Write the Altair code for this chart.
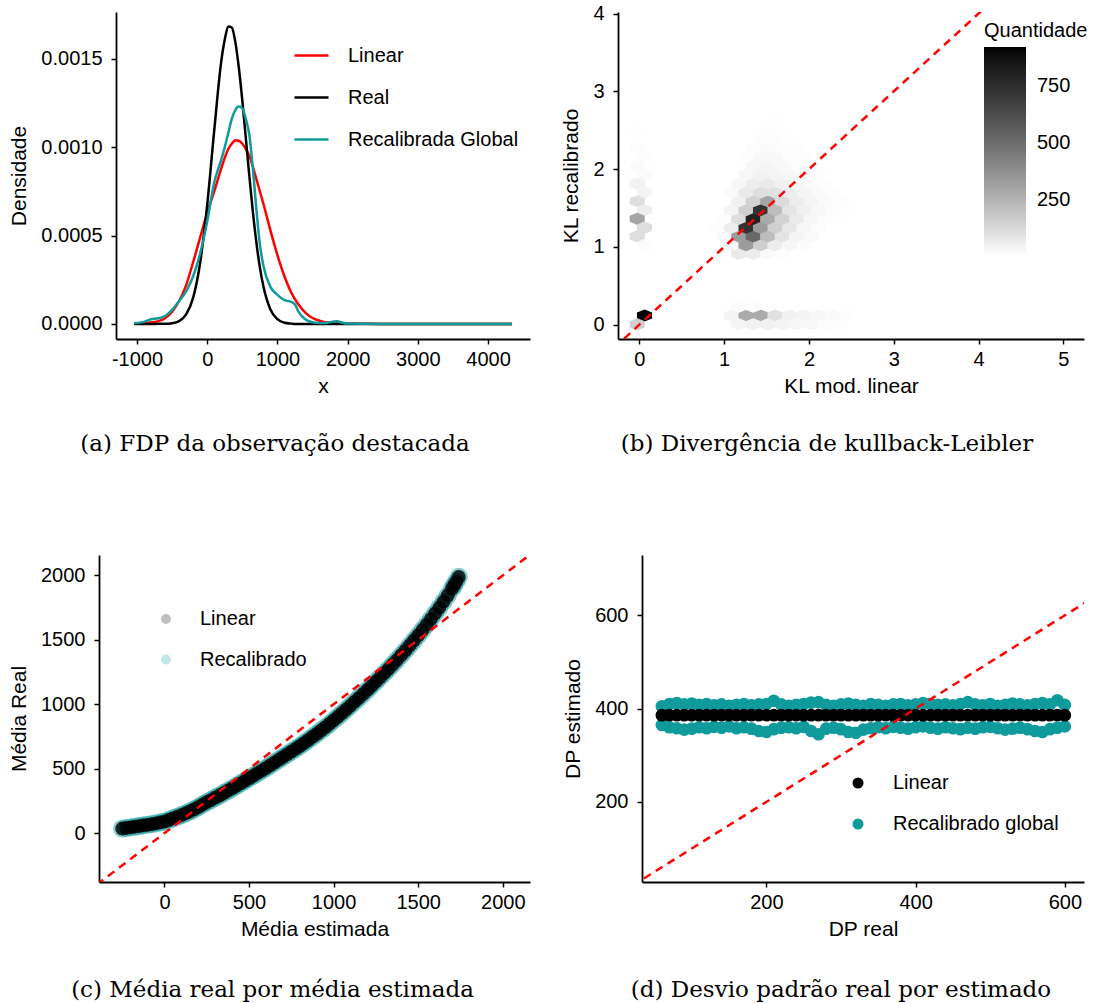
import altair as alt
import pandas as pd

FONT = "Liberation Sans"
SERIF = "DejaVu Serif"
TEAL = "#0F9A9B"

# ---------------- (a) densities ----------------
dens_x = [-1040, -900, -800, -700, -600, -500, -400, -300, -200, -100, 0, 100, 200, 250, 300, 350,
          400, 450, 500, 550, 600, 650, 700, 750, 800, 900, 1000, 1100, 1200, 1250, 1300, 1400,
          1500, 1600, 1700, 1800, 1850, 1900, 2000, 2500, 3000, 3500, 4000, 4340]
dens_linear = [0.000002, 0.000004, 0.000008, 0.000016, 0.000032, 0.00007, 0.00013, 0.00022, 0.00035,
               0.00049, 0.00063, 0.00075, 0.00088, 0.00094, 0.00099, 0.00102, 0.00104, 0.001037,
               0.00102, 0.00099, 0.00095, 0.00089, 0.00082, 0.00075, 0.00068, 0.00053, 0.00039,
               0.00027, 0.000175, 0.00014, 0.00011, 0.000063, 0.000034, 0.000018, 0.000009, 0.00001,
               0.000012, 0.000008, 0.000002, 0, 0, 0, 0, 0]
dens_real = [0, 0, 0, 0.000001, 0.000001, 0.000004, 0.000016, 0.000054, 0.000149, 0.000348, 0.000674,
             0.001095, 0.001486, 0.001609, 0.001683, 0.001677, 0.001596, 0.001451, 0.001264, 0.001051,
             0.000836, 0.000636, 0.000462, 0.00032, 0.000213, 0.000082, 0.000027, 0.000007, 0.000002,
             0, 0, 0, 0, 0, 0, 0, 0, 0, 0, 0, 0, 0, 0, 0]
dens_recal = [0.000004, 0.000012, 0.000027, 0.000032, 0.000045, 0.00008, 0.00013, 0.000185, 0.00027,
              0.0004, 0.00058, 0.0008, 0.00093, 0.001, 0.00108, 0.00116, 0.00121, 0.00123, 0.00122,
              0.00116, 0.00107, 0.00088, 0.00065, 0.00045, 0.00033, 0.00021, 0.000165, 0.000135,
              0.000125, 0.00011, 0.00007, 0.000025, 0.00001, 0.000006, 0.000006, 0.000014, 0.000016,
              0.00001, 0.000002, 0, 0, 0, 0, 0]
dens_series = ["Linear", "Real", "Recalibrada Global"]
dens_colors = ["#FF0000", "#000000", TEAL]

# ---------------- (b) hexbin counts ----------------
hex_x = [-0.025, -0.025, 0.061, -0.025, 0.061, -0.025, 0.061, -0.025, 0.061, -0.025, 0.061, -0.025, 0.061,
         0.061, -0.025,
         1.087, 1.258, 1.429, 1.600, 1.771, 1.942, 2.113, 2.284, 2.455, 2.626,
         1.172, 1.343, 1.514, 1.685, 1.856, 2.027, 2.198, 2.369, 2.540,
         1.172, 1.343,
         1.172, 1.343, 1.514, 1.685,
         1.087, 1.258, 1.429, 1.600, 1.771, 1.942,
         1.001, 1.172, 1.343, 1.514, 1.685, 1.856, 2.027,
         0.916, 1.087, 1.258, 1.429, 1.600, 1.771, 1.942, 2.113,
         1.001, 1.172, 1.343, 1.514, 1.685, 1.856, 2.027, 2.198, 2.369,
         1.087, 1.258, 1.429, 1.600, 1.771, 1.942, 2.113, 2.284, 2.455,
         1.172, 1.343, 1.514, 1.685, 1.856, 2.027, 2.198, 2.369,
         1.087, 1.258, 1.429, 1.600, 1.771, 1.942, 2.113, 2.284,
         1.172, 1.343, 1.514, 1.685, 1.856, 2.027, 2.198,
         1.258, 1.429, 1.600, 1.771, 1.942, 2.113,
         1.343, 1.514, 1.685, 1.856, 2.027,
         1.258, 1.429, 1.600, 1.771, 1.942,
         1.343, 1.514, 1.685, 1.856,
         1.429, 1.600, 1.771,
         1.514, 1.685, 1.856,
         1.600, 1.771,
         1.685, 1.771, 1.856]
hex_y = [2.491, 2.265, 2.152, 2.039, 1.926, 1.813, 1.700, 1.587, 1.474, 1.361, 1.248, 1.135, 1.022,
         0.118, 0.005,
         0.118, 0.118, 0.118, 0.118, 0.118, 0.118, 0.118, 0.118, 0.118, 0.118,
         0.005, 0.005, 0.005, 0.005, 0.005, 0.005, 0.005, 0.005, 0.005,
         0.231, 0.231,
         0.909, 0.909, 0.909, 0.909,
         1.022, 1.022, 1.022, 1.022, 1.022, 1.022,
         1.135, 1.135, 1.135, 1.135, 1.135, 1.135, 1.135,
         1.248, 1.248, 1.248, 1.248, 1.248, 1.248, 1.248, 1.248,
         1.361, 1.361, 1.361, 1.361, 1.361, 1.361, 1.361, 1.361, 1.361,
         1.474, 1.474, 1.474, 1.474, 1.474, 1.474, 1.474, 1.474, 1.474,
         1.587, 1.587, 1.587, 1.587, 1.587, 1.587, 1.587, 1.587,
         1.700, 1.700, 1.700, 1.700, 1.700, 1.700, 1.700, 1.700,
         1.813, 1.813, 1.813, 1.813, 1.813, 1.813, 1.813,
         1.926, 1.926, 1.926, 1.926, 1.926, 1.926,
         2.039, 2.039, 2.039, 2.039, 2.039,
         2.152, 2.152, 2.152, 2.152, 2.152,
         2.265, 2.265, 2.265, 2.265,
         2.378, 2.378, 2.378,
         2.491, 2.491, 2.491,
         2.604, 2.604,
         2.717, 2.830, 2.943]
hex_n = [8, 12, 15, 20, 20, 45, 40, 110, 60, 300, 110, 110, 15,
         923, 160,
         40, 280, 280, 100, 50, 40, 30, 20, 10, 5,
         35, 50, 50, 40, 30, 25, 15, 10, 5,
         15, 10,
         70, 60, 20, 10,
         30, 330, 160, 60, 30, 15,
         20, 330, 520, 220, 90, 40, 20,
         10, 60, 730, 330, 160, 80, 30, 15,
         15, 110, 800, 280, 150, 70, 30, 15, 8,
         40, 160, 730, 220, 90, 50, 25, 12, 6,
         50, 150, 300, 120, 60, 35, 20, 10,
         20, 70, 110, 100, 60, 35, 20, 10,
         30, 60, 70, 50, 30, 20, 10,
         25, 45, 40, 30, 20, 10,
         30, 35, 25, 15, 10,
         10, 25, 25, 15, 10,
         12, 20, 15, 10,
         12, 12, 8,
         10, 8, 5,
         6, 5,
         5, 4, 3]

# ---------------- (c) mean real vs estimated ----------------
media_est = [-250, -225, -200, -175, -150, -125, -100, -75, -50, -25, 0, 25, 50, 75, 100, 125, 150, 175,
             200, 225, 250, 275, 300, 325, 350, 375, 400, 425, 450, 475, 500, 525, 550, 575, 600, 625,
             650, 675, 700, 725, 750, 775, 800, 825, 850, 875, 900, 925, 950, 975, 1000, 1025, 1050,
             1075, 1100, 1125, 1150, 1175, 1200, 1225, 1250, 1275, 1300, 1325, 1350, 1375, 1400, 1425,
             1450, 1475, 1500, 1525, 1550, 1575, 1600, 1625, 1650, 1675, 1700, 1712, 1725, 1740]
media_real = [36, 40, 45, 50, 55, 60, 65, 70, 76, 83, 90, 102, 115, 127, 140, 154, 168, 184, 202, 221,
              240, 257, 275, 292, 310, 329, 348, 367, 386, 405, 425, 445, 465, 485, 505, 526, 547, 568,
              590, 611, 633, 654, 675, 698, 722, 746, 770, 795, 820, 847, 875, 903, 931, 960, 990,
              1020, 1050, 1080, 1111, 1143, 1175, 1208, 1241, 1275, 1310, 1345, 1381, 1418, 1456,
              1495, 1535, 1576, 1618, 1661, 1705, 1750, 1797, 1845, 1897, 1924, 1952, 1988]

# ---------------- (d) sd estimated vs real ----------------
dp_real = [60, 70, 80, 90, 100, 110, 120, 130, 140, 150, 160, 170, 180, 190, 200, 210, 220, 230, 240,
           250, 260, 270, 280, 290, 300, 310, 320, 330, 340, 350, 360, 370, 380, 390, 400, 410, 420,
           430, 440, 450, 460, 470, 480, 490, 500, 510, 520, 530, 540, 550, 560, 570, 580, 590, 600]
dp_linear = [386] * len(dp_real)
dp_recal_hi = [405, 410, 412, 409, 411, 408, 410, 407, 409, 406, 408, 410, 407, 409, 410, 417, 409, 406,
               408, 410, 413, 414, 408, 406, 409, 411, 408, 406, 410, 408, 406, 409, 410, 407, 409, 412,
               410, 408, 409, 407, 410, 414, 409, 407, 410, 406, 408, 411, 409, 407, 410, 412, 409, 418, 408]
dp_recal_lo = [365, 360, 358, 355, 357, 360, 358, 361, 359, 362, 358, 360, 357, 352, 350, 356, 359, 360,
               358, 361, 352, 345, 357, 359, 356, 350, 348, 355, 358, 360, 358, 361, 359, 357, 360, 362,
               359, 357, 360, 358, 356, 359, 357, 360, 361, 358, 355, 357, 359, 356, 352, 350, 356, 359, 362]

# ---------------- helpers ----------------
HEX = "M0,-0.807L1,-0.4035L1,0.4035L0,0.807L-1,0.4035L-1,-0.4035Z"


def caption(text, dx, offset):
    return alt.TitleParams(text=text, orient="bottom", frame="group", anchor="middle", offset=offset,
                           dx=dx, baseline="alphabetic", font=SERIF, fontSize=23,
                           fontWeight="normal", color="black")


def qscale(lo, hi):
    return alt.Scale(domain=[lo, hi], nice=False, zero=False)


def spacer(w):
    return alt.Chart(pd.DataFrame({"s": [0]})).mark_point(opacity=0).properties(width=w, height=327)


hyphen = "replace(format(datum.value, 'd'), '\u2212', '-')"

# ---------------- panel a ----------------
rows = []
for name, ys in zip(dens_series, [dens_linear, dens_real, dens_recal]):
    for xv, yv in zip(dens_x, ys):
        rows.append({"x": xv, "dens": yv, "serie": name})
df_a = pd.DataFrame(rows)

panel_a = alt.Chart(df_a).mark_line(strokeWidth=2.5, interpolate="monotone", clip=True).encode(
    x=alt.X("x:Q", scale=qscale(-1299, 4597),
            axis=alt.Axis(values=[-1000, 0, 1000, 2000, 3000, 4000], labelExpr=hyphen, title="x")),
    y=alt.Y("dens:Q", scale=qscale(-0.000085, 0.001765),
            axis=alt.Axis(values=[0, 0.0005, 0.001, 0.0015], format=".4f", title="Densidade")),
    color=alt.Color("serie:N", scale=alt.Scale(domain=dens_series, range=dens_colors),
                    legend=alt.Legend(title=None, orient="none", legendX=177, legendY=25,
                                      symbolType="stroke", symbolSize=1156, symbolStrokeWidth=2.5,
                                      labelFontSize=20, labelOffset=18, rowPadding=13, padding=0,
                                      labelLimit=0)),
).properties(width=414, height=327, title=caption("(a) FDP da observação destacada", -48, 55))

# ---------------- panel b ----------------
df_b = pd.DataFrame({"kl_lin": hex_x, "kl_rec": hex_y, "n": hex_n})
diag_b = pd.DataFrame({"kl_lin": [-0.3, 5.3], "kl_rec": [-0.3, 5.3]})
xb = alt.X("kl_lin:Q", scale=qscale(-0.252, 5.244),
           axis=alt.Axis(values=[0, 1, 2, 3, 4, 5], title="KL mod. linear"))
yb = alt.Y("kl_rec:Q", scale=qscale(-0.184, 4.02),
           axis=alt.Axis(values=[0, 1, 2, 3, 4], title="KL recalibrado"))
hexes = alt.Chart(df_b).mark_point(shape=HEX, filled=True, size=228, opacity=1, strokeWidth=0).encode(
    x=xb, y=yb,
    fill=alt.Fill("n:Q", scale=alt.Scale(domain=[4, 923], range=["#FFFFFF", "#000000"],
                                         interpolate="lab", clamp=True, nice=False, zero=False),
                  legend=alt.Legend(title="Quantidade", orient="none", legendX=366, legendY=9,
                                    direction="vertical", gradientLength=209, gradientThickness=42,
                                    values=[250, 500, 750], labelFontSize=20, titleFontSize=20,
                                    labelOffset=11, titlePadding=6, gradientStrokeWidth=0, padding=0,
                                    titleLimit=0)),
)
line_b = alt.Chart(diag_b).mark_line(color="#FF0000", strokeDash=[8, 6], strokeWidth=2.5, clip=True).encode(
    x=xb, y=yb)
panel_b = alt.layer(hexes, line_b).properties(
    width=466, height=327, title=caption("(b) Divergência de kullback-Leibler", -24, 55))

# ---------------- panel c ----------------
df_c_rec = pd.DataFrame({"est": media_est, "real": media_real, "modelo": "Recalibrado"})
df_c_lin = pd.DataFrame({"est": media_est, "real": media_real, "modelo": "Linear"})
diag_c = pd.DataFrame({"est": [-400, 2200], "real": [-400, 2200]})
xc = alt.X("est:Q", scale=qscale(-387, 2161),
           axis=alt.Axis(values=[0, 500, 1000, 1500, 2000], format="d", title="Média estimada"))
yc = alt.Y("real:Q", scale=qscale(-379, 2158),
           axis=alt.Axis(values=[0, 500, 1000, 1500, 2000], format="d", title="Média Real"))
col_c = alt.Color("modelo:N", scale=alt.Scale(domain=["Linear", "Recalibrado"], range=["#000000", TEAL]),
                  legend=alt.Legend(title=None, orient="none", legendX=57, legendY=54, symbolType="circle",
                                    symbolSize=100, symbolOpacity=0.25, symbolStrokeWidth=0,
                                    labelFontSize=20, labelOffset=24, rowPadding=20.5, padding=0,
                                    labelLimit=0))
pts_c_rec = alt.Chart(df_c_rec).mark_circle(size=330, opacity=0.5).encode(x=xc, y=yc, color=col_c)
pts_c_lin = alt.Chart(df_c_lin).mark_circle(size=190, opacity=0.82).encode(x=xc, y=yc, color=col_c)
line_c = alt.Chart(diag_c).mark_line(color="#FF0000", strokeDash=[8, 6], strokeWidth=2.5, clip=True).encode(
    x=xc, y=yc)
panel_c = alt.layer(pts_c_rec, pts_c_lin, line_c).properties(
    width=431, height=327, title=caption("(c) Média real por média estimada", -42, 58))

# ---------------- panel d ----------------
df_d_rec = pd.DataFrame({"dp_real": dp_real + dp_real, "dp_est": dp_recal_hi + dp_recal_lo,
                         "modelo": "Recalibrado global"})
df_d_lin = pd.DataFrame({"dp_real": dp_real, "dp_est": dp_linear, "modelo": "Linear"})
diag_d = pd.DataFrame({"dp_real": [20, 700], "dp_est": [20, 700]})
xd = alt.X("dp_real:Q", scale=qscale(33.4, 625.7),
           axis=alt.Axis(values=[200, 400, 600], format="d", title="DP real"))
yd = alt.Y("dp_est:Q", scale=qscale(28.3, 729.4),
           axis=alt.Axis(values=[200, 400, 600], format="d", title="DP estimado"))
col_d = alt.Color("modelo:N",
                  scale=alt.Scale(domain=["Linear", "Recalibrado global"], range=["#000000", TEAL]),
                  legend=alt.Legend(title=None, orient="none", legendX=206, legendY=218, symbolType="circle",
                                    symbolSize=121, symbolOpacity=1, symbolStrokeWidth=0,
                                    labelFontSize=20, labelOffset=25, rowPadding=21, padding=0,
                                    labelLimit=0))
pts_d_rec = alt.Chart(df_d_rec).mark_circle(size=160, opacity=1).encode(x=xd, y=yd, color=col_d)
pts_d_lin = alt.Chart(df_d_lin).mark_circle(size=160, opacity=1).encode(x=xd, y=yd, color=col_d)
line_d = alt.Chart(diag_d).mark_line(color="#FF0000", strokeDash=[8, 6], strokeWidth=2.5, clip=True).encode(
    x=xd, y=yd)
panel_d = alt.layer(pts_d_rec, pts_d_lin, line_d).properties(
    width=442, height=327, title=caption("(d) Desvio padrão real por estimado", -22, 58))

ind = dict(x="independent", y="independent", color="independent", fill="independent")
row1 = alt.hconcat(spacer(17), panel_a, spacer(88), panel_b, spacing=0, bounds="flush").resolve_scale(
    **ind).resolve_legend(color="independent", fill="independent")
row2 = alt.hconcat(panel_c, panel_d, spacing=112, bounds="flush").resolve_scale(**ind).resolve_legend(
    color="independent", fill="independent")

chart = alt.vconcat(row1, row2, spacing=99).resolve_scale(**ind).resolve_legend(
    color="independent", fill="independent"
).properties(
    padding={"left": 8, "top": 3, "right": 0, "bottom": 0}
).configure_view(strokeWidth=0).configure_axis(
    domainColor="#000000", domainWidth=1.8, tickColor="#000000", tickWidth=1.5, tickSize=5,
    labelFont=FONT, labelFontSize=20, labelColor="#000000", labelPadding=5, labelFlush=False,
    labelOverlap=False, titleFont=FONT, titleFontSize=21, titleFontWeight="normal", titleColor="#000000",
    titlePadding=6, grid=False,
).configure_axisY(labelPadding=9, titlePadding=11).configure_legend(
    labelFont=FONT, titleFont=FONT, labelColor="#000000", titleColor="#000000", titleFontWeight="normal",
)

chart.save("out.html", embed_options={"renderer": "svg", "actions": False})
